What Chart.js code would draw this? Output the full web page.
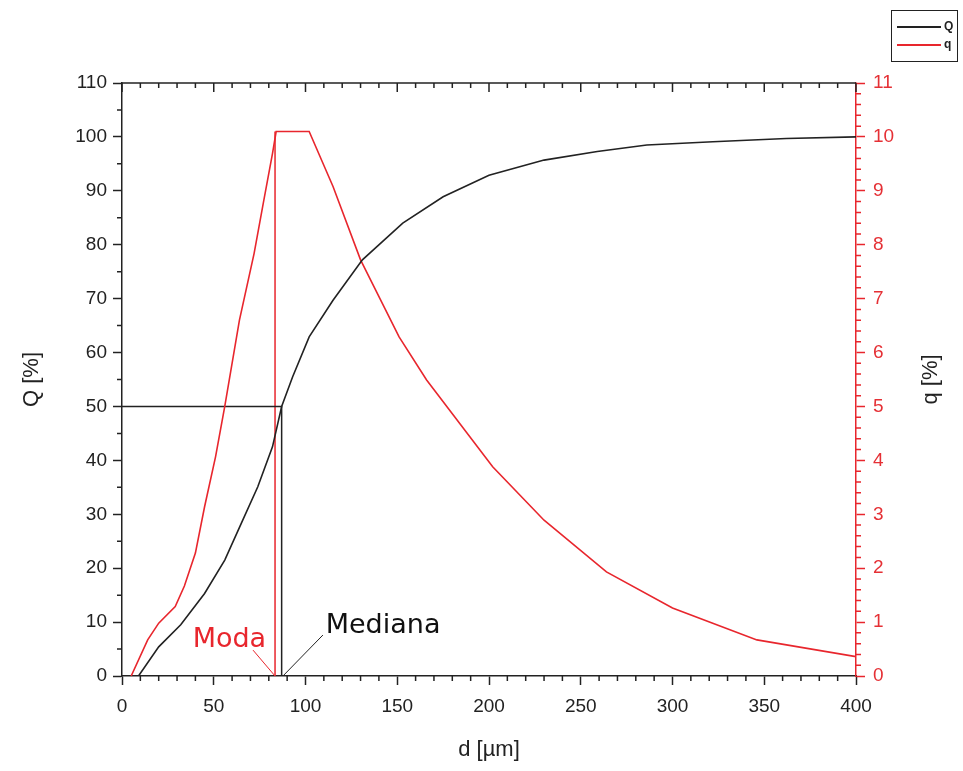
<!DOCTYPE html>
<html>
<head>
<meta charset="utf-8">
<script src="https://cdn.jsdelivr.net/npm/chart.js@4.4.1/dist/chart.umd.min.js"></script>
<style>
  body { margin: 0; background: #fff; }
  #wrap { width: 963px; height: 771px; position: relative; }
</style>
</head>
<body>
<div id="wrap"><canvas id="chart"></canvas></div>
<script>
// cumulative curve Q [%] vs d [um]
var dQ = [9, 20, 32, 45, 56, 65, 74, 82, 87, 93, 102, 115, 131, 153, 175, 200, 230, 259, 286, 322, 362, 400];
var Q  = [0, 5.4, 9.5, 15.3, 21.5, 28.3, 35.1, 42.5, 50, 55.5, 62.9, 69.7, 77.2, 84, 88.9, 92.9, 95.7, 97.3, 98.5, 99.1, 99.7, 100];

// density curve q [%] vs d [um]
var dq = [5, 14, 20, 29, 34, 40, 45, 51, 56, 64, 72, 77, 82, 84, 102, 115, 130, 151, 166, 177, 202, 230, 264, 300, 346, 400];
var q  = [0, 0.67, 0.98, 1.29, 1.67, 2.28, 3.14, 4.07, 5.0, 6.6, 7.84, 8.77, 9.69, 10.1, 10.1, 9.08, 7.72, 6.29, 5.49, 5.0, 3.88, 2.89, 1.93, 1.26, 0.67, 0.36];

// marked values
var medianD = 87;    // Q = 50
var medianQ = 50;
var modeD = 83.4;
var modeQ = 10.1;

var xTicks = [0, 50, 100, 150, 200, 250, 300, 350, 400];
var yTicks = [0, 10, 20, 30, 40, 50, 60, 70, 80, 90, 100, 110];
var y1Ticks = [0, 1, 2, 3, 4, 5, 6, 7, 8, 9, 10, 11];

var BLACK = '#222222';
var RED = '#e8262d';
var RED_TXT = '#e53035';

function pts(xs, ys) {
    return xs.map(function (x, i) { return { x: x, y: ys[i] }; });
}

Chart.defaults.font.family = "'Liberation Sans', Arial, sans-serif";
Chart.defaults.font.size = 19;
Chart.defaults.color = BLACK;

// minor ticks, top frame, right title, legend and labels
var extras = {
    id: 'extras',
    afterDraw: function (chart) {
        var c = chart.ctx, a = chart.chartArea;
        var sx = chart.scales.x, sy = chart.scales.y, sy1 = chart.scales.y1;
        c.save();
        c.lineWidth = 1.5;

        // top frame
        c.strokeStyle = BLACK;
        c.beginPath();
        c.moveTo(a.left, a.top);
        c.lineTo(a.right, a.top);
        c.stroke();

        // x ticks (bottom minor outward, top inward)
        c.beginPath();
        for (var v = 0; v <= 400; v += 10) {
            var px = sx.getPixelForValue(v);
            var major = v % 50 === 0;
            if (!major) {
                c.moveTo(px, a.bottom);
                c.lineTo(px, a.bottom + 5);
            }
            c.moveTo(px, a.top);
            c.lineTo(px, a.top + (major ? 9 : 5));
        }
        // left minor
        for (var w = 5; w < 110; w += 10) {
            var py = sy.getPixelForValue(w);
            c.moveTo(a.left, py);
            c.lineTo(a.left - 5, py);
        }
        c.stroke();

        // right minor
        c.strokeStyle = RED;
        c.beginPath();
        for (var k = 0; k < 55; k++) {
            if (k % 5 === 0) continue;
            var py1 = sy1.getPixelForValue(k / 5);
            c.moveTo(a.right, py1);
            c.lineTo(a.right + 5, py1);
        }
        c.stroke();

        // right title
        c.fillStyle = BLACK;
        c.font = "22px 'Liberation Sans', Arial, sans-serif";
        c.textAlign = 'center';
        c.textBaseline = 'middle';
        c.translate(931, (a.top + a.bottom) / 2);
        c.rotate(-Math.PI / 2);
        c.fillText('q [%]', 0, 0);
        c.setTransform(1, 0, 0, 1, 0, 0);

        // annotations
        c.textAlign = 'left';
        c.textBaseline = 'alphabetic';
        c.font = "27px 'DejaVu Sans', Verdana, sans-serif";
        c.fillStyle = RED;
        c.fillText('Moda', sx.getPixelForValue(38.5), sy.getPixelForValue(5.4));
        c.fillStyle = '#111';
        c.fillText('Mediana', sx.getPixelForValue(111), sy.getPixelForValue(8.0));

        // legend
        c.strokeStyle = BLACK;
        c.lineWidth = 1;
        c.strokeRect(891.5, 10.5, 66, 51);
        c.font = "bold 12px 'Liberation Sans', Arial, sans-serif";
        c.textBaseline = 'middle';
        var items = [chart.data.datasets[0], chart.data.datasets[1]];
        items.forEach(function (ds, i) {
            var ly = 27 + i * 18;
            c.strokeStyle = ds.borderColor;
            c.lineWidth = 2;
            c.beginPath();
            c.moveTo(897, ly);
            c.lineTo(941, ly);
            c.stroke();
            c.fillStyle = BLACK;
            c.fillText(ds.label, 944, ly);
        });
        c.restore();
    }
};

new Chart(document.getElementById('chart'), {
    type: 'line',
    data: {
        datasets: [
            { label: 'Q', data: pts(dQ, Q), yAxisID: 'y', borderColor: BLACK, borderWidth: 1.6 },
            { label: 'q', data: pts(dq, q), yAxisID: 'y1', borderColor: RED, borderWidth: 1.6 },
            { label: 'median', data: [{ x: 0, y: medianQ }, { x: medianD, y: medianQ }, { x: medianD, y: 0 }],
              yAxisID: 'y', borderColor: BLACK, borderWidth: 1.5 },
            { label: 'mode', data: [{ x: modeD, y: 0 }, { x: modeD, y: modeQ }],
              yAxisID: 'y1', borderColor: RED, borderWidth: 1.5 },
            { label: 'mode leader', data: [{ x: 71.4, y: 0.48 }, { x: modeD, y: 0 }],
              yAxisID: 'y1', borderColor: RED, borderWidth: 1 },
            { label: 'median leader', data: [{ x: 109.5, y: 7.6 }, { x: medianD + 0.7, y: 0 }],
              yAxisID: 'y', borderColor: BLACK, borderWidth: 1 }
        ]
    },
    options: {
        responsive: true,
        maintainAspectRatio: false,
        animation: false,
        layout: { padding: { top: 83 } },
        elements: { point: { radius: 0 }, line: { tension: 0 } },
        plugins: { legend: { display: false }, tooltip: { enabled: false } },
        scales: {
            x: {
                type: 'linear', min: 0, max: 400,
                afterBuildTicks: function (s) { s.ticks = xTicks.map(function (v) { return { value: v }; }); },
                afterFit: function (s) { s.height = 95; },
                ticks: { padding: 10, maxRotation: 0 },
                grid: { drawOnChartArea: false, tickLength: 9, tickWidth: 1.5, tickColor: BLACK },
                border: { color: BLACK, width: 1.5 },
                title: { display: true, text: 'd [µm]', font: { size: 22 }, padding: { top: 0, bottom: 8 } }
            },
            y: {
                position: 'left', min: 0, max: 110,
                afterBuildTicks: function (s) { s.ticks = yTicks.map(function (v) { return { value: v }; }); },
                afterFit: function (s) { s.width = 122; },
                ticks: { padding: 6 },
                grid: { drawOnChartArea: false, tickLength: 9, tickWidth: 1.5, tickColor: BLACK },
                border: { color: BLACK, width: 1.5 },
                title: { display: true, text: 'Q [%]', font: { size: 22 }, padding: { top: 19, bottom: 0 } }
            },
            y1: {
                position: 'right', min: 0, max: 11,
                afterBuildTicks: function (s) { s.ticks = y1Ticks.map(function (v) { return { value: v }; }); },
                afterFit: function (s) { s.width = 107; },
                ticks: { padding: 8, color: RED_TXT },
                grid: { drawOnChartArea: false, tickLength: 9, tickWidth: 1.5, tickColor: RED },
                border: { color: RED, width: 1.5 }
            }
        }
    },
    plugins: [extras]
});
</script>
</body>
</html>
